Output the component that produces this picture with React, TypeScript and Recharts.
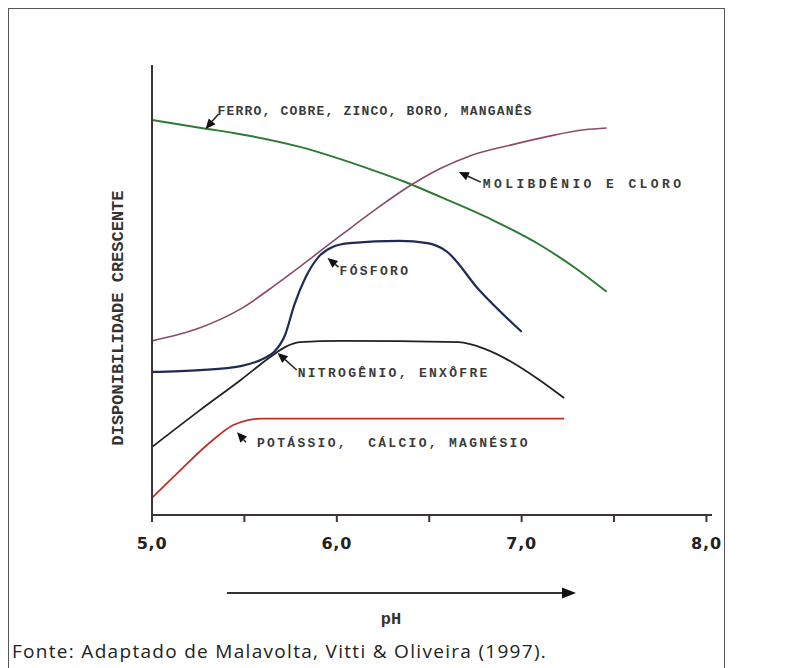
import { LineChart, Line, XAxis, YAxis, ReferenceDot } from "recharts";

// --- pH ticks ---
const phTicks = [5, 5.5, 6, 6.5, 7, 7.5, 8];

// --- curves (relative availability, 0..100) ---
const ferroPh = [5.0, 5.3, 5.44, 5.8, 6.19, 6.37, 6.56, 6.84, 7.1, 7.29, 7.46];
const ferroVal = [87.8, 85.8, 84.9, 81.8, 76.7, 74.0, 70.7, 65.6, 60.0, 54.9, 49.6];

const molibPh = [5.0, 5.26, 5.48, 5.69, 6.03, 6.21, 6.37, 6.56, 6.72, 6.94, 7.15, 7.34, 7.46];
const molibVal = [38.7, 41.6, 45.8, 51.8, 62.4, 67.9, 72.5, 77.0, 79.8, 82.2, 84.2, 85.6, 86.0];

const fosforoPh = [5.0, 5.26, 5.48, 5.61, 5.66, 5.72, 5.77, 5.83, 5.9, 5.98, 6.07, 6.34, 6.49, 6.59, 6.77, 7.0];
const fosforoVal = [31.8, 32.2, 33.1, 34.9, 36.2, 40.0, 46.7, 52.7, 57.3, 59.6, 60.4, 60.9, 60.4, 58.7, 50.0, 40.7];

const nitroPh = [5.0, 5.26, 5.48, 5.64, 5.72, 5.8, 6.02, 6.66, 6.8, 6.95, 7.1, 7.23];
const nitroVal = [15.1, 23.3, 30.0, 35.1, 37.3, 38.4, 38.7, 38.4, 36.9, 33.9, 29.9, 26.0];

const potassioPh = [5.0, 5.15, 5.31, 5.44, 5.52, 5.59, 7.23];
const potassioVal = [3.8, 9.8, 16.0, 20.0, 21.1, 21.4, 21.4];

const zip = (xs: number[], ys: number[]) => xs.map((ph, i) => ({ ph, v: ys[i] }));

const series = [
  { name: "ferro", color: "#2c7a33", width: 2, data: zip(ferroPh, ferroVal) },
  { name: "molib", color: "#8a4a6a", width: 1.6, data: zip(molibPh, molibVal) },
  { name: "fosforo", color: "#1e2b55", width: 2.2, data: zip(fosforoPh, fosforoVal) },
  { name: "nitro", color: "#222222", width: 1.8, data: zip(nitroPh, nitroVal) },
  { name: "potassio", color: "#c0302a", width: 1.8, data: zip(potassioPh, potassioVal) },
];

// --- callouts: arrow tip in data units, text/tail offsets in px ---
const callouts = [
  { ph: 5.29, v: 85.8, text: "FERRO, COBRE, ZINCO, BORO, MANGANÊS", tx: 12, ty: -17, lx: 13, ly: -15, ls: 1.2 },
  { ph: 6.66, v: 76.2, text: "MOLIBDÊNIO E CLORO", tx: 24, ty: 12, lx: 22, ly: 10, ls: 3.4 },
  { ph: 5.95, v: 57.1, text: "FÓSFORO", tx: 12, ty: 13, lx: 11, ly: 9, ls: 2.3 },
  { ph: 5.68, v: 36.0, text: "NITROGÊNIO, ENXÔFRE", tx: 20, ty: 20, lx: 19, ly: 17, ls: 2.3 },
  { ph: 5.46, v: 18.4, text: "POTÁSSIO,  CÁLCIO, MAGNÉSIO", tx: 20, ty: 11, lx: 9, ly: 10, ls: 2.3 },
];

function Callout({ cx, cy, c }: { cx: number; cy: number; c: (typeof callouts)[number] }) {
  const x0 = cx + c.lx;
  const y0 = cy + c.ly;
  const dx = cx - x0;
  const dy = cy - y0;
  const len = Math.sqrt(dx * dx + dy * dy) || 1;
  const ux = dx / len;
  const uy = dy / len;
  const hl = 10;
  const hw = 4.5;
  const bx = cx - ux * hl;
  const by = cy - uy * hl;
  return (
    <g>
      <line x1={x0} y1={y0} x2={bx} y2={by} stroke="#222" strokeWidth={1.5} />
      <polygon
        points={`${cx},${cy} ${bx - uy * hw},${by + ux * hw} ${bx + uy * hw},${by - ux * hw}`}
        fill="#111"
      />
      <text
        x={cx + c.tx}
        y={cy + c.ty}
        dominantBaseline="central"
        fontFamily="Liberation Mono"
        fontWeight="bold"
        fontSize={13}
        letterSpacing={c.ls}
        fill="#3a3a3a"
        style={{ whiteSpace: "pre" }}
      >
        {c.text}
      </text>
    </g>
  );
}

const fmtTick = (v: number) => (Number.isInteger(v) ? v.toFixed(1).replace(".", ",") : "");

export default function App() {
  return (
    <div style={{ position: "relative", width: 790, height: 668, overflow: "hidden", background: "#fff" }}>
      <style>{`html,body{margin:0;padding:0;overflow:hidden;}`}</style>

      {/* outer frame */}
      <div
        style={{
          position: "absolute",
          left: 8,
          top: 8,
          width: 717,
          height: 700,
          border: "1.5px solid #555",
          boxSizing: "border-box",
        }}
      />

      <div style={{ position: "absolute", left: 0, top: 0 }}>
        <LineChart width={790} height={668} margin={{ top: 65, right: 78, bottom: 113, left: 112 }}>
          <XAxis
            type="number"
            dataKey="ph"
            domain={[5, 8.03]}
            ticks={phTicks}
            interval={0}
            allowDataOverflow
            height={40}
            tickFormatter={fmtTick}
            axisLine={{ stroke: "#3d3535", strokeWidth: 2 }}
            tickLine={{ stroke: "#3d3535", strokeWidth: 2 }}
            tickSize={7}
            tickMargin={16}
            tick={{ fontFamily: "DejaVu Sans", fontWeight: "bold", fontSize: 16, fill: "#222", letterSpacing: 0.8 }}
          />
          <YAxis
            type="number"
            domain={[0, 100]}
            width={40}
            tick={false}
            tickLine={false}
            axisLine={{ stroke: "#3d3535", strokeWidth: 2 }}
          />
          {series.map((s) => (
            <Line
              key={s.name}
              data={s.data}
              dataKey="v"
              type="monotone"
              stroke={s.color}
              strokeWidth={s.width}
              dot={false}
              isAnimationActive={false}
            />
          ))}
          {callouts.map((c) => (
            <ReferenceDot
              key={c.text}
              x={c.ph}
              y={c.v}
              r={0}
              ifOverflow="visible"
              shape={(p: any) => <Callout cx={p.cx} cy={p.cy} c={c} />}
            />
          ))}
        </LineChart>
      </div>

      {/* axis titles */}
      <svg width={790} height={668} style={{ position: "absolute", left: 0, top: 0, pointerEvents: "none" }}>
        <text
          x={118}
          y={318}
          transform="rotate(-90 118 318)"
          textAnchor="middle"
          dominantBaseline="central"
          fontFamily="Liberation Mono"
          fontWeight="bold"
          fontSize={17}
          fill="#333"
        >
          DISPONIBILIDADE CRESCENTE
        </text>
        <line x1={227} y1={593} x2={563} y2={593} stroke="#333" strokeWidth={1.8} />
        <polygon points="576,593 562,587.5 562,598.5" fill="#111" />
        <text
          x={391}
          y={619}
          textAnchor="middle"
          dominantBaseline="central"
          fontFamily="Liberation Mono"
          fontWeight="bold"
          fontSize={17}
          fill="#333"
        >
          pH
        </text>
      </svg>

      <div
        style={{
          position: "absolute",
          left: 12,
          top: 638,
          fontFamily: "Open Sans",
          fontSize: 19,
          letterSpacing: 1.3,
          color: "#222",
          whiteSpace: "nowrap",
        }}
      >
        Fonte: Adaptado de Malavolta, Vitti &amp; Oliveira (1997).
      </div>
    </div>
  );
}
